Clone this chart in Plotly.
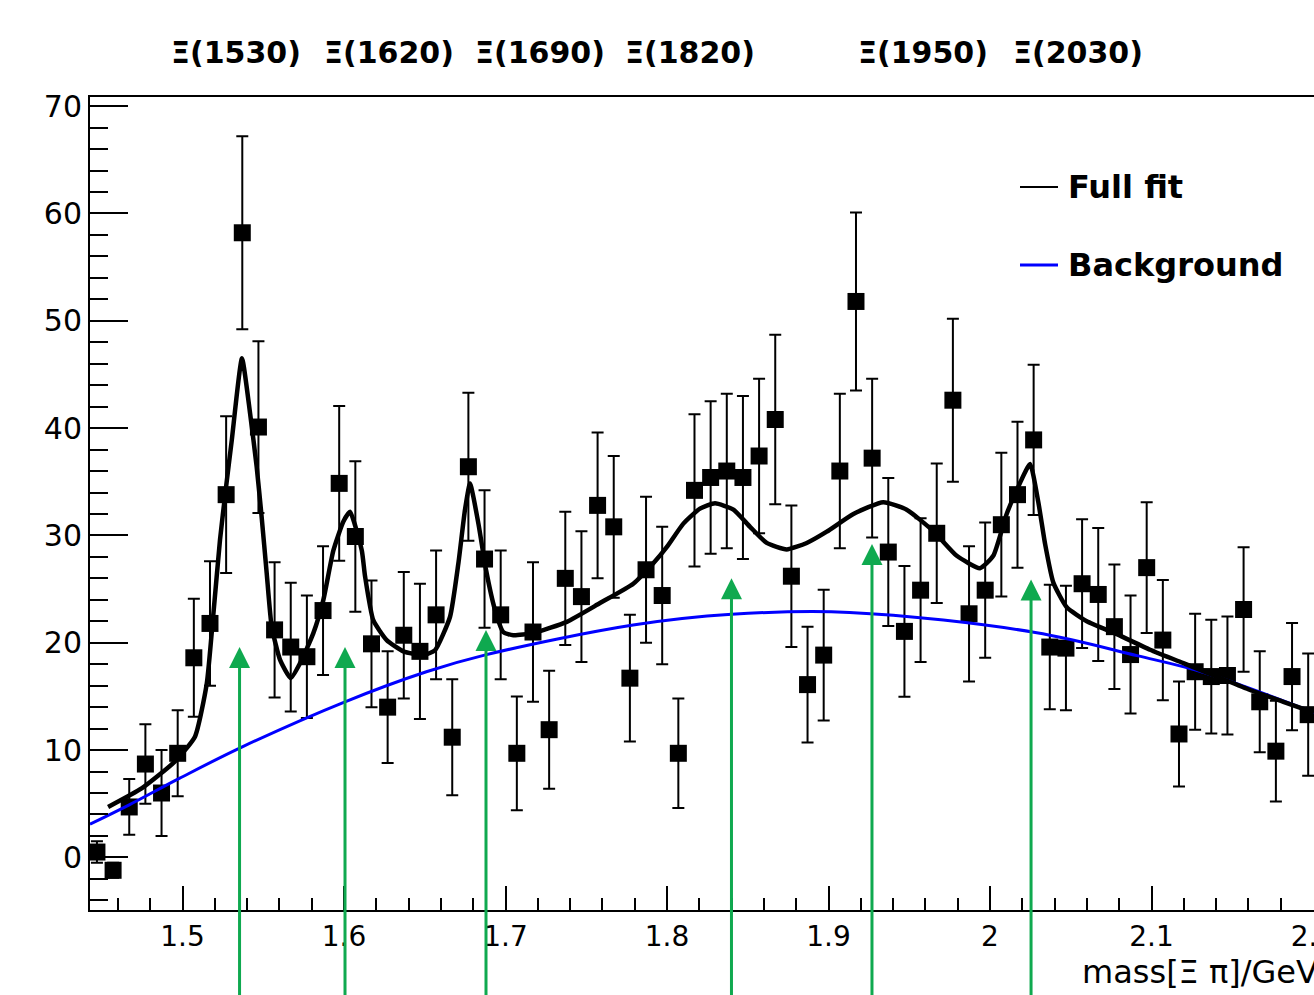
import plotly.graph_objects as go

# ---------------- data ----------------
bin_centers = [round(1.447 + 0.01 * i, 3) for i in range(76)]
counts = [0.5, -1.2, 4.7, 8.7, 6.0, 9.7, 18.6, 21.8, 33.8, 58.2,
          40.1, 21.2, 19.6, 18.7, 23.0, 34.85, 29.9, 19.9, 14.0, 20.7,
          19.2, 22.6, 11.2, 36.4, 27.8, 22.6, 9.7, 21.0, 11.9, 26.0,
          24.3, 32.8, 30.8, 16.7, 26.8, 24.4, 9.7, 34.2, 35.4, 36.0,
          35.4, 37.4, 40.8, 26.2, 16.1, 18.85, 36.0, 51.8, 37.2, 28.45,
          21.06, 24.9, 30.2, 42.6, 22.7, 24.9, 31.0, 33.8, 38.9, 19.6,
          19.5, 25.5, 24.5, 21.5, 18.9, 27.0, 20.25, 11.5, 17.3, 16.85,
          16.95, 23.1, 14.5, 9.9, 16.85, 13.3]
errors = [1.0, 0.7, 2.6, 3.7, 4.0, 4.0, 5.5, 5.8, 7.3, 9.0,
          8.0, 6.3, 6.0, 5.7, 6.0, 7.2, 7.0, 5.9, 5.2, 5.9,
          6.3, 6.0, 5.4, 6.9, 6.4, 6.0, 5.3, 6.5, 5.5, 6.2,
          6.1, 6.8, 6.6, 5.9, 6.8, 6.4, 5.1, 7.1, 7.1, 7.2,
          7.6, 7.2, 7.9, 6.6, 5.4, 6.1, 7.2, 8.3, 7.4, 6.9,
          6.1, 6.7, 6.5, 7.6, 6.3, 6.3, 6.7, 6.8, 7.0, 5.8,
          5.8, 6.0, 6.2, 5.8, 5.5, 6.1, 5.6, 4.9, 5.4, 5.3,
          5.5, 5.8, 4.7, 4.7, 5.0, 5.7]

fit_x = [1.4539, 1.4749, 1.4950, 1.5077, 1.5150, 1.5191, 1.5232, 1.5267, 1.5305, 1.5368,
         1.5418, 1.5459, 1.5490, 1.5521, 1.5552, 1.5604, 1.5670, 1.5728, 1.5810, 1.5872,
         1.5934, 1.5996, 1.6037, 1.6110, 1.6130, 1.6181, 1.6264, 1.6367, 1.6491, 1.6563,
         1.6656, 1.6708, 1.6749, 1.6780, 1.6832, 1.6879, 1.6935, 1.6986, 1.7048, 1.7172,
         1.7379, 1.7585, 1.7791, 1.7915, 1.7998, 1.8101, 1.8204, 1.8297, 1.8411, 1.8514,
         1.8617, 1.8741, 1.8865, 1.8989, 1.9154, 1.9339, 1.9484, 1.9649, 1.9794, 1.9938,
         2.0020, 2.0103, 2.0186, 2.0248, 2.0299, 2.0341, 2.0392, 2.0475, 2.0599, 2.0785,
         2.0991, 2.1197, 2.1404, 2.1610, 2.1816, 2.2006]
fit_y = [4.7, 6.45, 8.9, 11.25, 16.2, 22.7, 29.6, 34.2, 38.9, 46.5,
         41.4, 36.4, 31.7, 26.5, 21.5, 18.4, 16.7, 18.1, 20.9, 24.0,
         28.6, 31.3, 32.2, 28.6, 26.2, 22.1, 20.25, 19.2, 18.85, 19.3,
         22.4, 27.4, 32.4, 34.85, 31.1, 26.8, 23.05, 21.0, 20.7, 20.9,
         21.95, 23.7, 25.5, 27.4, 28.9, 31.1, 32.5, 33.0, 32.4, 30.8,
         29.3, 28.7, 29.3, 30.35, 32.0, 33.1, 32.4, 30.4, 28.1, 26.95,
         28.1, 32.0, 34.9, 36.65, 33.1, 29.2, 25.6, 23.3, 22.0, 20.8,
         19.35, 18.1, 16.85, 15.6, 14.5, 13.5]

bkg_x = [1.4427, 1.467, 1.498, 1.537, 1.6006, 1.651, 1.687, 1.779, 1.840, 1.913,
         2.028, 2.091, 2.133, 2.2006]
bkg_y = [3.1, 4.9, 7.36, 10.3, 14.5, 17.3, 18.85, 21.65, 22.65, 22.83,
         20.96, 18.8, 17.2, 13.5]

arrow_x = [1.5353, 1.6006, 1.6879, 1.8399, 1.9269, 2.0254]
arrow_y = [19.6, 19.6, 21.2, 26.0, 29.2, 25.9]
arrow_tail_y = -14.0   # arrows start below the frame, at the page's bottom

state_labels = ["Ξ(1530)", "Ξ(1620)", "Ξ(1690)", "Ξ(1820)", "Ξ(1950)", "Ξ(2030)"]
legend_labels = ["Full fit", "Background"]
x_title = "mass[Ξ π]/GeV"

# ---------------- layout geometry (pixels) ----------------
W, H = 1314, 995
L, R, T, B = 90, 0, 97, 85
PW, PH = W - L - R, H - T - B


def px(xp):
    return (xp - L) / PW


def py(yp):
    return (H - B - yp) / PH


FONT = "DejaVu Sans"
GREEN = "#0fa94f"

fig = go.Figure()

fig.add_trace(go.Scatter(
    x=bin_centers, y=counts, mode="markers",
    marker=dict(symbol="square", size=17, color="black"),
    error_y=dict(type="data", array=errors, visible=True,
                 color="black", thickness=2, width=6),
    showlegend=False))

fig.add_trace(go.Scatter(
    x=bkg_x, y=bkg_y, mode="lines",
    line=dict(color="#0000ff", width=3, shape="spline", smoothing=1.0),
    showlegend=False))

fig.add_trace(go.Scatter(
    x=fit_x, y=fit_y, mode="lines",
    line=dict(color="black", width=4.5, shape="spline", smoothing=0.5),
    showlegend=False))

annotations = []
# green arrows
for ax_, ay_ in zip(arrow_x, arrow_y):
    annotations.append(dict(
        x=ax_, y=ay_, xref="x", yref="y", text="", showarrow=True,
        ax=ax_, ay=arrow_tail_y, axref="x", ayref="y",
        arrowhead=2, arrowsize=1.4, arrowwidth=3, arrowcolor=GREEN,
        standoff=0, startstandoff=0))

# state labels above the frame
label_centers = [236, 389, 540, 690, 923, 1078]
for txt, cx in zip(state_labels, label_centers):
    annotations.append(dict(
        x=px(cx), y=py(52), xref="paper", yref="paper",
        text="<b>" + txt + "</b>", showarrow=False,
        xanchor="center", yanchor="middle",
        font=dict(family=FONT, size=30, color="black")))

# legend text
for txt, yy in zip(legend_labels, [187, 265]):
    annotations.append(dict(
        x=px(1066), y=py(yy), xref="paper", yref="paper",
        text="<b>" + txt + "</b>", showarrow=False,
        xanchor="left", yanchor="middle",
        font=dict(family=FONT, size=32, color="black")))

# axis title
annotations.append(dict(
    x=px(1080), y=py(972), xref="paper", yref="paper",
    text=x_title, showarrow=False, xanchor="left", yanchor="middle",
    font=dict(family=FONT, size=32, color="black")))

shapes = [
    dict(type="line", xref="paper", yref="paper",
         x0=px(1020), x1=px(1058), y0=py(187), y1=py(187),
         line=dict(color="black", width=2)),
    dict(type="line", xref="paper", yref="paper",
         x0=px(1020), x1=px(1058), y0=py(265), y1=py(265),
         line=dict(color="#0000ff", width=3)),
]

fig.update_layout(
    width=W, height=H,
    margin=dict(l=L, r=R, t=T, b=B, pad=0, autoexpand=False),
    paper_bgcolor="white", plot_bgcolor="white",
    annotations=annotations, shapes=shapes,
    showlegend=False,
    xaxis=dict(
        range=[1.4427, 2.2006], showgrid=False, zeroline=False,
        showline=True, linecolor="black", linewidth=2, mirror=True,
        ticks="inside", ticklen=24, tickwidth=2, tickcolor="black",
        tick0=1.5, dtick=0.1, tickformat="~g", automargin=False,
        tickfont=dict(family=FONT, size=28, color="black"),
        ticklabeloverflow="allow",
        minor=dict(ticks="inside", ticklen=12, tickwidth=2,
                   tickcolor="black", dtick=0.02, tick0=1.5, showgrid=False),
    ),
    yaxis=dict(
        range=[-4.9, 70.85], showgrid=False, zeroline=False,
        showline=True, linecolor="black", linewidth=2, mirror=False,
        ticks="inside", ticklen=38, tickwidth=2, tickcolor="black",
        tick0=0, dtick=10, automargin=False,
        tickfont=dict(family=FONT, size=30, color="black"),
        minor=dict(ticks="inside", ticklen=18, tickwidth=2,
                   tickcolor="black", dtick=2, tick0=0, showgrid=False),
    ),
)

fig.write_html(
    "out.html",
    config={"displayModeBar": False},
    post_script="document.body.style.margin='0';"
                "document.body.style.overflow='hidden';")
